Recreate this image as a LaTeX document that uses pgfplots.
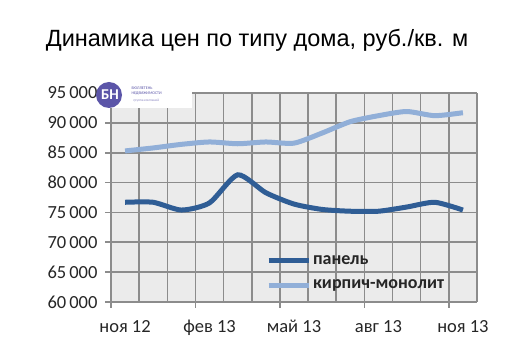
\documentclass[border=0pt]{standalone}
\usepackage{fontspec}
\setmainfont{Carlito}
\newfontfamily\titlefont{Liberation Sans}
\usepackage{pgfplots}
\pgfplotsset{compat=1.18}
\definecolor{panel}{HTML}{2F5D95}
\definecolor{brick}{HTML}{91AFD8}
\definecolor{gridc}{HTML}{8C8C8C}
\definecolor{bgc}{HTML}{EBEBEB}
\definecolor{logoc}{HTML}{5B55A8}
\begin{document}
\begin{tikzpicture}
\useasboundingbox (0bp,0bp) rectangle (510bp,361bp);
\node[font=\titlefont\fontsize{23.5bp}{28bp}\selectfont] at (257bp,321bp) {Динамика цен по типу дома, руб./кв. м};
\fill[bgc] (111bp,59bp) rectangle (477bp,268bp);
\begin{axis}[
  at={(111bp,59bp)}, anchor=south west,
  scale only axis, width=366bp, height=209bp,
  xmin=-0.5, xmax=12.5, ymin=60000, ymax=95000,
  clip=false,
  axis lines=left, axis line style={draw=gridc, line width=1.6bp, -},
  xtick={0,3,6,9,12},
  xticklabels={ноя 12,фев 13,май 13,авг 13,ноя 13},
  xticklabel style={yshift=-17bp, text height=10bp, text depth=3bp},
  major tick length=0pt,
  ytick={60000,65000,...,95000},
  scaled y ticks=false,
  /pgf/number format/1000 sep={\,},
  /pgf/number format/assume math mode=true,
  yticklabel style={xshift=-10bp},
  tick label style={font=\fontsize{18.5bp}{21bp}\selectfont, text=black!85},
  legend style={at={(0.415,0.242)}, anchor=north west, draw=none, fill=none,
    font=\bfseries\fontsize{18bp}{20bp}\selectfont, row sep=10bp, text=black!85},
  legend cell align=left,
  legend image code/.code={\draw[#1, line width=5bp] (0bp,0bp) -- (40bp,0bp);},
]
% grid and tick marks
\pgfplotsinvokeforeach{-0.5,0.5,1.5,2.5,3.5,4.5,5.5,6.5,7.5,8.5,9.5,10.5,11.5,12.5}{
  \draw[draw=gridc, line width=1.6bp] (axis cs:#1,60000) -- (axis cs:#1,95000);}
\pgfplotsinvokeforeach{65000,70000,75000,80000,85000,90000,95000}{
  \draw[draw=gridc, line width=1.6bp] (axis cs:-0.5,#1) -- (axis cs:12.5,#1);}
\pgfplotsinvokeforeach{60000,65000,70000,75000,80000,85000,90000,95000}{
  \draw[draw=gridc, line width=1.6bp] (axis cs:-0.5,#1) -- ++(-6bp,0bp);}
\pgfplotsinvokeforeach{-0.5,2.5,5.5,8.5,11.5}{
  \draw[draw=gridc, line width=1.6bp] (axis cs:#1,60000) -- ++(0bp,-6bp);}
\addplot[panel, line width=5bp, smooth, tension=0.4] coordinates {
(0,76700) (1,76700) (2,75400) (3,76600) (4,81300) (5,78300) (6,76400)
(7,75500) (8,75200) (9,75200) (10,75900) (11,76700) (12,75400)};
\addlegendentry{панель}
\addplot[brick, line width=5bp, smooth, tension=0.4] coordinates {
(0,85300) (1,85800) (2,86400) (3,86800) (4,86500) (5,86800) (6,86600)
(7,88300) (8,90200) (9,91200) (10,91900) (11,91200) (12,91700)};
\addlegendentry{кирпич-монолит}
\end{axis}
\fill[white] (100bp,253bp) rectangle (192bp,278bp);
\fill[logoc] (109bp,266bp) circle (13bp);
\node[text=white, font=\bfseries\fontsize{15bp}{15bp}\selectfont] at (110bp,266bp) {БН};
\node[anchor=west, text=logoc, font=\fontsize{4bp}{4.5bp}\selectfont, align=left] at (128bp,270bp) {БЮЛЛЕТЕНЬ\\НЕДВИЖИМОСТИ};
\node[anchor=west, text=logoc!70, font=\fontsize{3.5bp}{4bp}\selectfont] at (130bp,260bp) {группа компаний};
\end{tikzpicture}
\end{document}
